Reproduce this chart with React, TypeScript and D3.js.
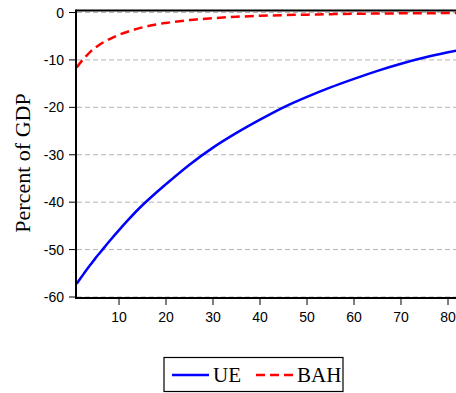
import React from "react";
import * as d3 from "d3";

const periods = [1, 2, 3, 4, 5, 6, 8, 10, 12, 14, 16, 18, 20, 25, 30, 35, 40, 45, 50, 55, 60, 65, 70, 75, 80, 82];
const ueValues = [-57.2, -55.8, -54.4, -53.1, -51.8, -50.6, -48.2, -45.9, -43.7, -41.6, -39.7, -37.9, -36.2, -32.1, -28.5, -25.4, -22.6, -20.0, -17.8, -15.8, -14.0, -12.3, -10.8, -9.5, -8.4, -8.0];
const bahValues = [-11.6, -10.3, -9.2, -8.2, -7.4, -6.7, -5.6, -4.7, -4.0, -3.4, -2.9, -2.5, -2.2, -1.6, -1.2, -0.9, -0.7, -0.55, -0.45, -0.35, -0.28, -0.22, -0.18, -0.15, -0.12, -0.1];
const xTicks = [10, 20, 30, 40, 50, 60, 70, 80];
const yTicks = [0, -10, -20, -30, -40, -50, -60];
const seriesNames = ["UE", "BAH"];

export default function App() {
  const W = 456, H = 393;
  const x = d3.scaleLinear().domain([1, 80]).range([76.7, 448]);
  const y = d3.scaleLinear().domain([0, -60]).range([12.5, 297]);
  const line = d3.line<[number, number]>().x(d => x(d[0])).y(d => y(d[1])).curve(d3.curveMonotoneX);
  const ue = periods.map((p, i) => [p, ueValues[i]] as [number, number]);
  const bah = periods.map((p, i) => [p, bahValues[i]] as [number, number]);
  const sans = "'Liberation Sans', Arial, sans-serif";
  const serif = "'Liberation Serif', 'Times New Roman', serif";
  return (
    <svg width={W} height={H} style={{ position: "absolute", left: 0, top: 0, background: "#fff" }}>
      <defs>
        <clipPath id="plot"><rect x={76} y={8} width={W - 76} height={292} /></clipPath>
      </defs>
      {yTicks.map(t => (
        <line key={t} x1={77} x2={W} y1={y(t)} y2={y(t)} stroke="#b4b4b4" strokeWidth={1} strokeDasharray="5,3" />
      ))}
      <g clipPath="url(#plot)">
        <path d={line(ue) || ""} fill="none" stroke="#0000ff" strokeWidth={2.5} />
        <path d={line(bah) || ""} fill="none" stroke="#ff0000" strokeWidth={2.5} strokeDasharray="9,5" />
      </g>
      <line x1={76} x2={W} y1={10.5} y2={10.5} stroke="#000" strokeWidth={2} />
      <line x1={76} x2={76} y1={9.5} y2={298.5} stroke="#000" strokeWidth={2} />
      <line x1={75} x2={W} y1={298} y2={298} stroke="#000" strokeWidth={2} />
      {yTicks.map(t => (
        <g key={t}>
          <line x1={69} x2={76} y1={y(t)} y2={y(t)} stroke="#000" strokeWidth={1} />
          <text x={64} y={y(t)} dy="0.36em" textAnchor="end" fontFamily={sans} fontSize={14} fill="#000">{t}</text>
        </g>
      ))}
      {xTicks.map(t => (
        <g key={t}>
          <line x1={x(t)} x2={x(t)} y1={298} y2={305} stroke="#000" strokeWidth={1} />
          <text x={x(t)} y={322} textAnchor="middle" fontFamily={sans} fontSize={14} fill="#000">{t}</text>
        </g>
      ))}
      <text transform={`translate(30,163) rotate(-90)`} textAnchor="middle" fontFamily={serif} fontSize={22} fill="#000">Percent of GDP</text>
      <rect x={164} y={357.5} width={179} height={34} fill="#fff" stroke="#000" strokeWidth={1.2} />
      <line x1={172} x2={209} y1={375} y2={375} stroke="#0000ff" strokeWidth={2.5} />
      <text x={213} y={382} fontFamily={serif} fontSize={21} fill="#000">{seriesNames[0]}</text>
      <line x1={256} x2={293} y1={375} y2={375} stroke="#ff0000" strokeWidth={2.5} strokeDasharray="9,5" />
      <text x={297} y={382} fontFamily={serif} fontSize={21} fill="#000">{seriesNames[1]}</text>
    </svg>
  );
}
